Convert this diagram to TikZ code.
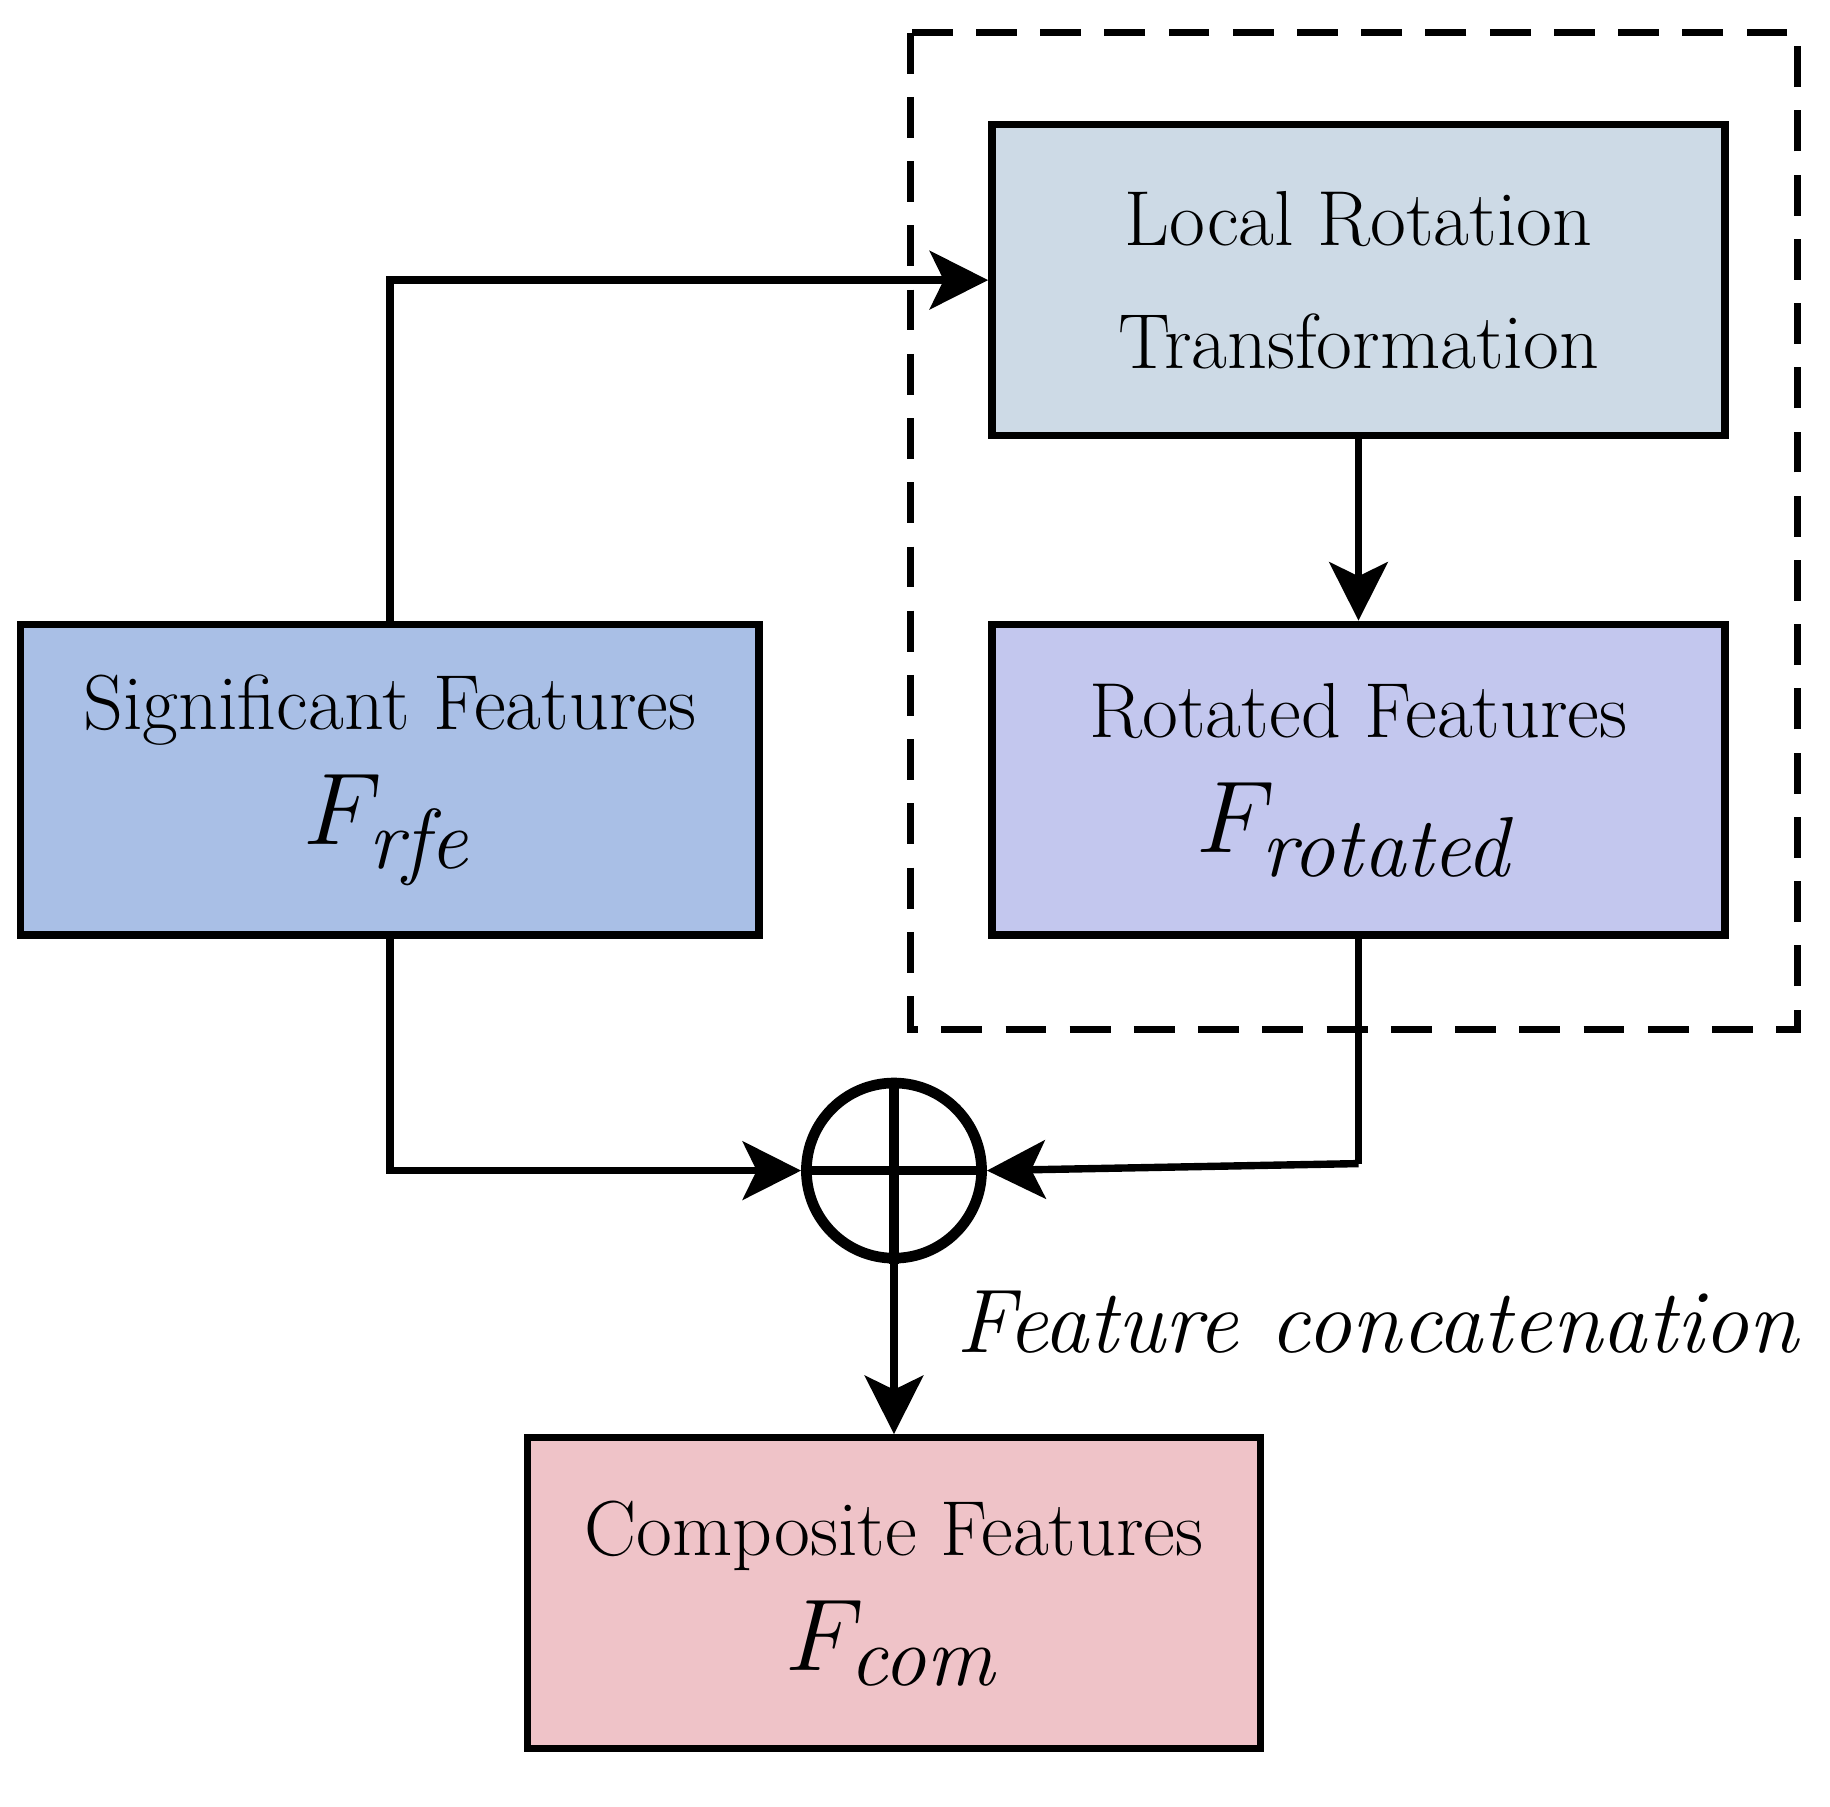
\documentclass[tikz,border=0pt]{standalone}
\usetikzlibrary{arrows.meta}
\begin{document}
\begin{tikzpicture}[x=0.01cm,y=-0.01cm,
  box/.style={draw,line width=1.8pt,minimum width=6.28cm,minimum height=2.66cm,align=center,font=\fontsize{19}{30}\selectfont},
  ar/.style={line width=1.8pt,-{Stealth[length=0.5cm,width=0.5cm,inset=0.12cm]}},
  ln/.style={line width=1.8pt}]
\useasboundingbox (0,0) rectangle (1568,1548);
\definecolor{cA}{HTML}{A9BFE6}\definecolor{cB}{HTML}{CDDAE6}
\definecolor{cC}{HTML}{C3C7EE}\definecolor{cD}{HTML}{EFC3C8}
\draw[line width=1.8pt,dash pattern=on 0.35cm off 0.2cm] (780,28) rectangle (1540,882);
\node[box,fill=cB] (lrt) at (1164,240) {Local Rotation\\Transformation};
\node[box,fill=cC] (rot) at (1164,668) {Rotated Features\\[-2pt]{\fontsize{30}{30}\selectfont$F_{\mathit{rotated}}$}};
\node[box,fill=cA,minimum width=6.32cm] (sig) at (334,668) {Significant Features\\[-2pt]{\fontsize{30}{30}\selectfont$F_{\mathit{rfe}}$}};
\node[box,fill=cD] (com) at (766,1365) {Composite Features\\[-2pt]{\fontsize{30}{30}\selectfont$F_{\mathit{com}}$}};
\node[draw,circle,line width=2.6pt,minimum size=1.5cm,inner sep=0] (sum) at (766,1003) {};
\draw[line width=2.2pt] (sum.north) -- (sum.south) (sum.west) -- (sum.east);
\node[font=\fontsize{22}{26}\selectfont\itshape] (lab) at (1180,1133) {Feature concatenation};
\draw[ar] (sig.north) |- (lrt.west);
\draw[ar] (lrt.south) -- (rot.north);
\draw[ar] (sig.south) |- (sum.west);
\coordinate (c1) at (1164,997);
\draw[ln] (rot.south) -- (c1);
\draw[ar] (c1) -- (sum.east);
\draw[ar] (sum.south) -- (com.north);
\end{tikzpicture}
\end{document}
